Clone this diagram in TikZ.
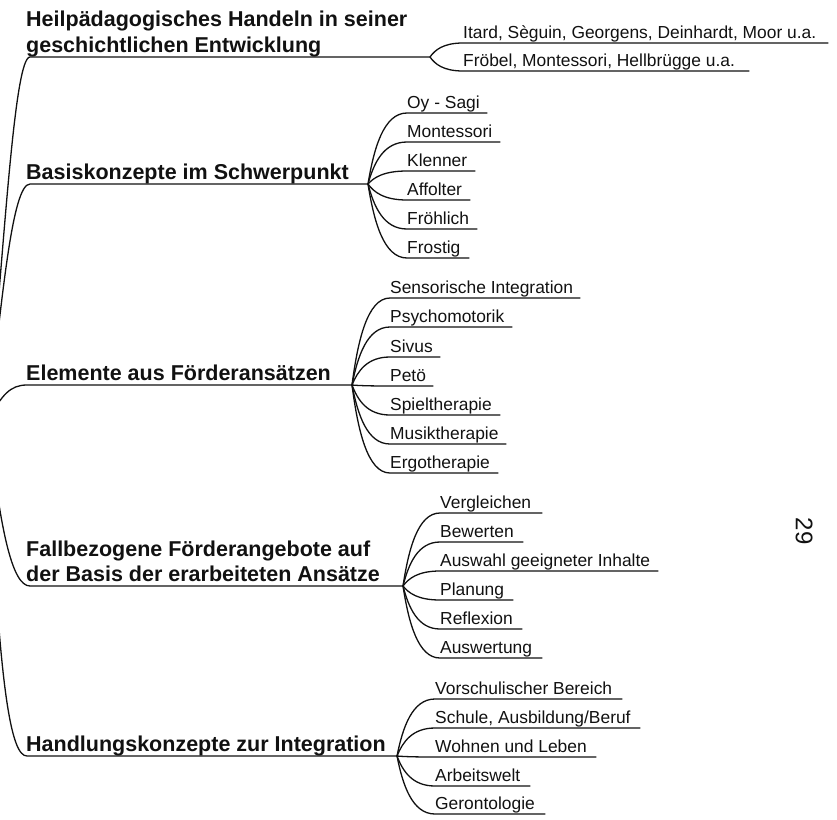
\documentclass[tikz,border=0pt]{standalone}
\usepackage{fontspec}
\newfontfamily\arialfont{Liberation Sans}
\usetikzlibrary{calc}
\newcommand\mmttlfont{\arialfont\bfseries\fontsize{21.5}{25}\selectfont}
\newcommand\mmleaffont{\arialfont\fontsize{17.4}{20}\selectfont}
\definecolor{ink}{HTML}{111111}
\tikzset{
  title/.style={font=\mmttlfont, anchor=base west, inner sep=0pt, text=ink},
  leaf/.style={font=\mmleaffont, anchor=base west, inner sep=0pt, text=ink},
  link/.style={line width=1.3pt, draw=ink, line cap=round},
}
% #1 prefix, #2 split x, #3 split y, #4 leaf start x, #5 list name/text/y/xend
\newcommand\mmleaves[5]{%
  \foreach \n/\t/\yy/\ee in {#5}{%
    \coordinate (#1\n s) at (#4,\yy);
    \coordinate (#1\n e) at (\ee,\yy);
    \node[leaf] (#1\n) at (#4,{\yy-5}) {\t};
    \draw[link] (#1k) .. controls ({#2+0.15*(#4-#2)},{#3+0.5*(\yy-#3)}) and ({#4-0.6*(#4-#2)},\yy) .. (#1\n s) -- (#1\n e);
  }}
\begin{document}
\begin{tikzpicture}[x=1pt,y=-1pt]
\useasboundingbox (0,0) rectangle (837,819);
\coordinate (root) at (-12,420);

% ---- section 1
\coordinate (As) at (30,57);
\coordinate (Ak) at (430,57);
\node[title] (A1) at (26,27) {Heilpädagogisches Handeln in seiner};
\node[title] (A2) at (26,52) {geschichtlichen Entwicklung};
\draw[link] (root) .. controls (4,250) and (14,57) .. (As) -- (Ak);
\mmleaves{A}{430}{57}{463}{a/{Itard, Sèguin, Georgens, Deinhardt, Moor u.a.}/43/828, b/{Fröbel, Montessori, Hellbrügge u.a.}/71/749}

% ---- section 2
\coordinate (Bs) at (30,184);
\coordinate (Bk) at (368,184);
\node[title] (B1) at (26,179) {Basiskonzepte im Schwerpunkt};
\draw[link] (root) .. controls (2,300) and (12,184) .. (Bs) -- (Bk);
\mmleaves{B}{368}{184}{407}{a/{Oy - Sagi}/113/487, b/Montessori/142/500, c/Klenner/171/475, d/Affolter/200/470, e/Fröhlich/229/477, f/Frostig/258/469}

% ---- section 3
\coordinate (Cs) at (27,385);
\coordinate (Ck) at (352,385);
\node[title] (C1) at (26,380) {Elemente aus Förderansätzen};
\draw[link] (root) .. controls (2,395) and (10,385) .. (Cs) -- (Ck);
\mmleaves{C}{352}{385}{390}{a/{Sensorische Integration}/298/580, b/Psychomotorik/327/512, c/Sivus/357/440, d/Petö/386/433, e/Spieltherapie/415/500, f/Musiktherapie/444/506, g/Ergotherapie/473/498}

% ---- section 4
\coordinate (Ds) at (30,586);
\coordinate (Dk) at (403,586);
\node[title] (D1) at (26,556) {Fallbezogene Förderangebote auf};
\node[title] (D2) at (26,581) {der Basis der erarbeiteten Ansätze};
\draw[link] (root) .. controls (0,530) and (12,586) .. (Ds) -- (Dk);
\mmleaves{D}{403}{586}{440}{a/Vergleichen/513/542, b/Bewerten/542/523, c/{Auswahl geeigneter Inhalte}/571/658, d/Planung/600/513, e/Reflexion/629/522, f/Auswertung/658/542}

% ---- section 5
\coordinate (Es) at (27,756);
\coordinate (Ek) at (397,756);
\node[title] (E1) at (26,751) {Handlungskonzepte zur Integration};
\draw[link] (root) .. controls (-2,700) and (12,756) .. (Es) -- (Ek);
\mmleaves{E}{397}{756}{435}{a/{Vorschulischer Bereich}/699/622, b/{Schule, Ausbildung/Beruf}/728/640, c/{Wohnen und Leben}/757/596, d/Arbeitswelt/786/530, e/Gerontologie/814/545}

% ---- page number
\node[font=\arialfont\fontsize{24}{24}\selectfont, rotate=-90, text=ink, inner sep=0pt] (pg) at (804,531) {29};
\end{tikzpicture}
\end{document}
